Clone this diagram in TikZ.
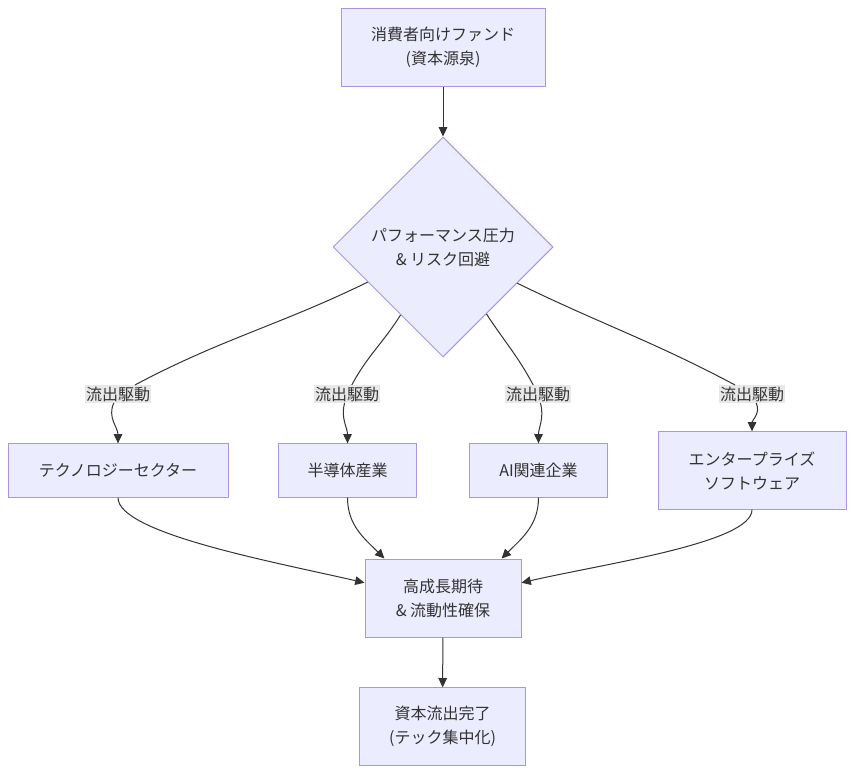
\documentclass[tikz,border=0pt]{standalone}
\usepackage{fontspec}
\setmainfont{Noto Sans CJK JP}
\usepackage{xcolor}
\usepackage{tikz}
\usetikzlibrary{arrows.meta,positioning,shapes.geometric}

\definecolor{boxfill}{HTML}{ECECFF}
\definecolor{boxline}{HTML}{A896DE}
\definecolor{edgeline}{HTML}{333333}
\definecolor{lblfill}{HTML}{E8E8E8}

\begin{document}
\begin{tikzpicture}[x=0.75pt,y=-0.75pt,
  every node/.style={font=\fontsize{12}{18}\selectfont,text=edgeline},
  box/.style={rectangle,draw=boxline,fill=boxfill,line width=0.75pt,align=center,inner sep=0pt},
  choice/.style={diamond,draw=boxline,fill=boxfill,line width=0.75pt,align=center,inner sep=0pt,minimum width=165pt,minimum height=165pt},
  flowlbl/.style={fill=lblfill,inner sep=1pt},
  arr/.style={draw=edgeline,line width=0.75pt,-{Triangle[length=7pt,width=6.5pt]}},
  ln/.style={draw=edgeline,line width=0.75pt}]
\useasboundingbox (0,0) rectangle (855,774);

\node (fund) [box,minimum width=153pt,minimum height=59pt] at (443,47.5) {消費者向けファンド\\(資本源泉)};
\node (press) [choice] at (443,247) {パフォーマンス圧力\\\& リスク回避};

\node (tech) [box,minimum width=165pt,minimum height=40pt] at (118,470.5) {テクノロジーセクター};
\node (semi) [box,minimum width=104pt,minimum height=40pt] at (347.5,470.5) {半導体産業};
\node (ai) [box,minimum width=104pt,minimum height=40pt] at (538.5,470.5) {AI関連企業};
\node (ent) [box,minimum width=141pt,minimum height=58pt] at (752,470.5) {エンタープライズ\\ソフトウェア};

\node (high) [box,minimum width=117pt,minimum height=58.5pt] at (443,598) {高成長期待\\\& 流動性確保};
\node (done) [box,minimum width=124pt,minimum height=58pt] at (442.5,726.5) {資本流出完了\\(テック集中化)};

% edge labels
\node (l1) [flowlbl] at (118,394) {流出駆動};
\node (l2) [flowlbl] at (347,394) {流出駆動};
\node (l3) [flowlbl] at (538,394) {流出駆動};
\node (l4) [flowlbl] at (752,394) {流出駆動};

\draw[arr] (fund) -- (press);

\draw[ln] (press.205) to[out=206,in=28] (l1);
\draw[arr] (l1) to[out=-115,in=90] (tech.north);
\draw[ln] (press.238) to[out=238,in=62] (l2);
\draw[arr] (l2) to[out=-105,in=90] (semi.north);
\draw[ln] (press.303) to[out=-57,in=118] (l3);
\draw[arr] (l3) to[out=-75,in=90] (ai.north);
\draw[ln] (press.334) to[out=-26,in=152] (l4);
\draw[arr] (l4) to[out=-65,in=90] (ent.north);

\draw[arr] (tech.south) to[out=-90,in=167,out looseness=0.35,in looseness=0.9] (high.169);
\draw[arr] (semi.south) to[out=-90,in=135] (high.146);
\draw[arr] (ai.south) to[out=-90,in=45] (high.34);
\draw[arr] (ent.south) to[out=-90,in=13,out looseness=0.35,in looseness=0.9] (high.11);

\draw[arr] (high) -- (done);
\end{tikzpicture}
\end{document}
